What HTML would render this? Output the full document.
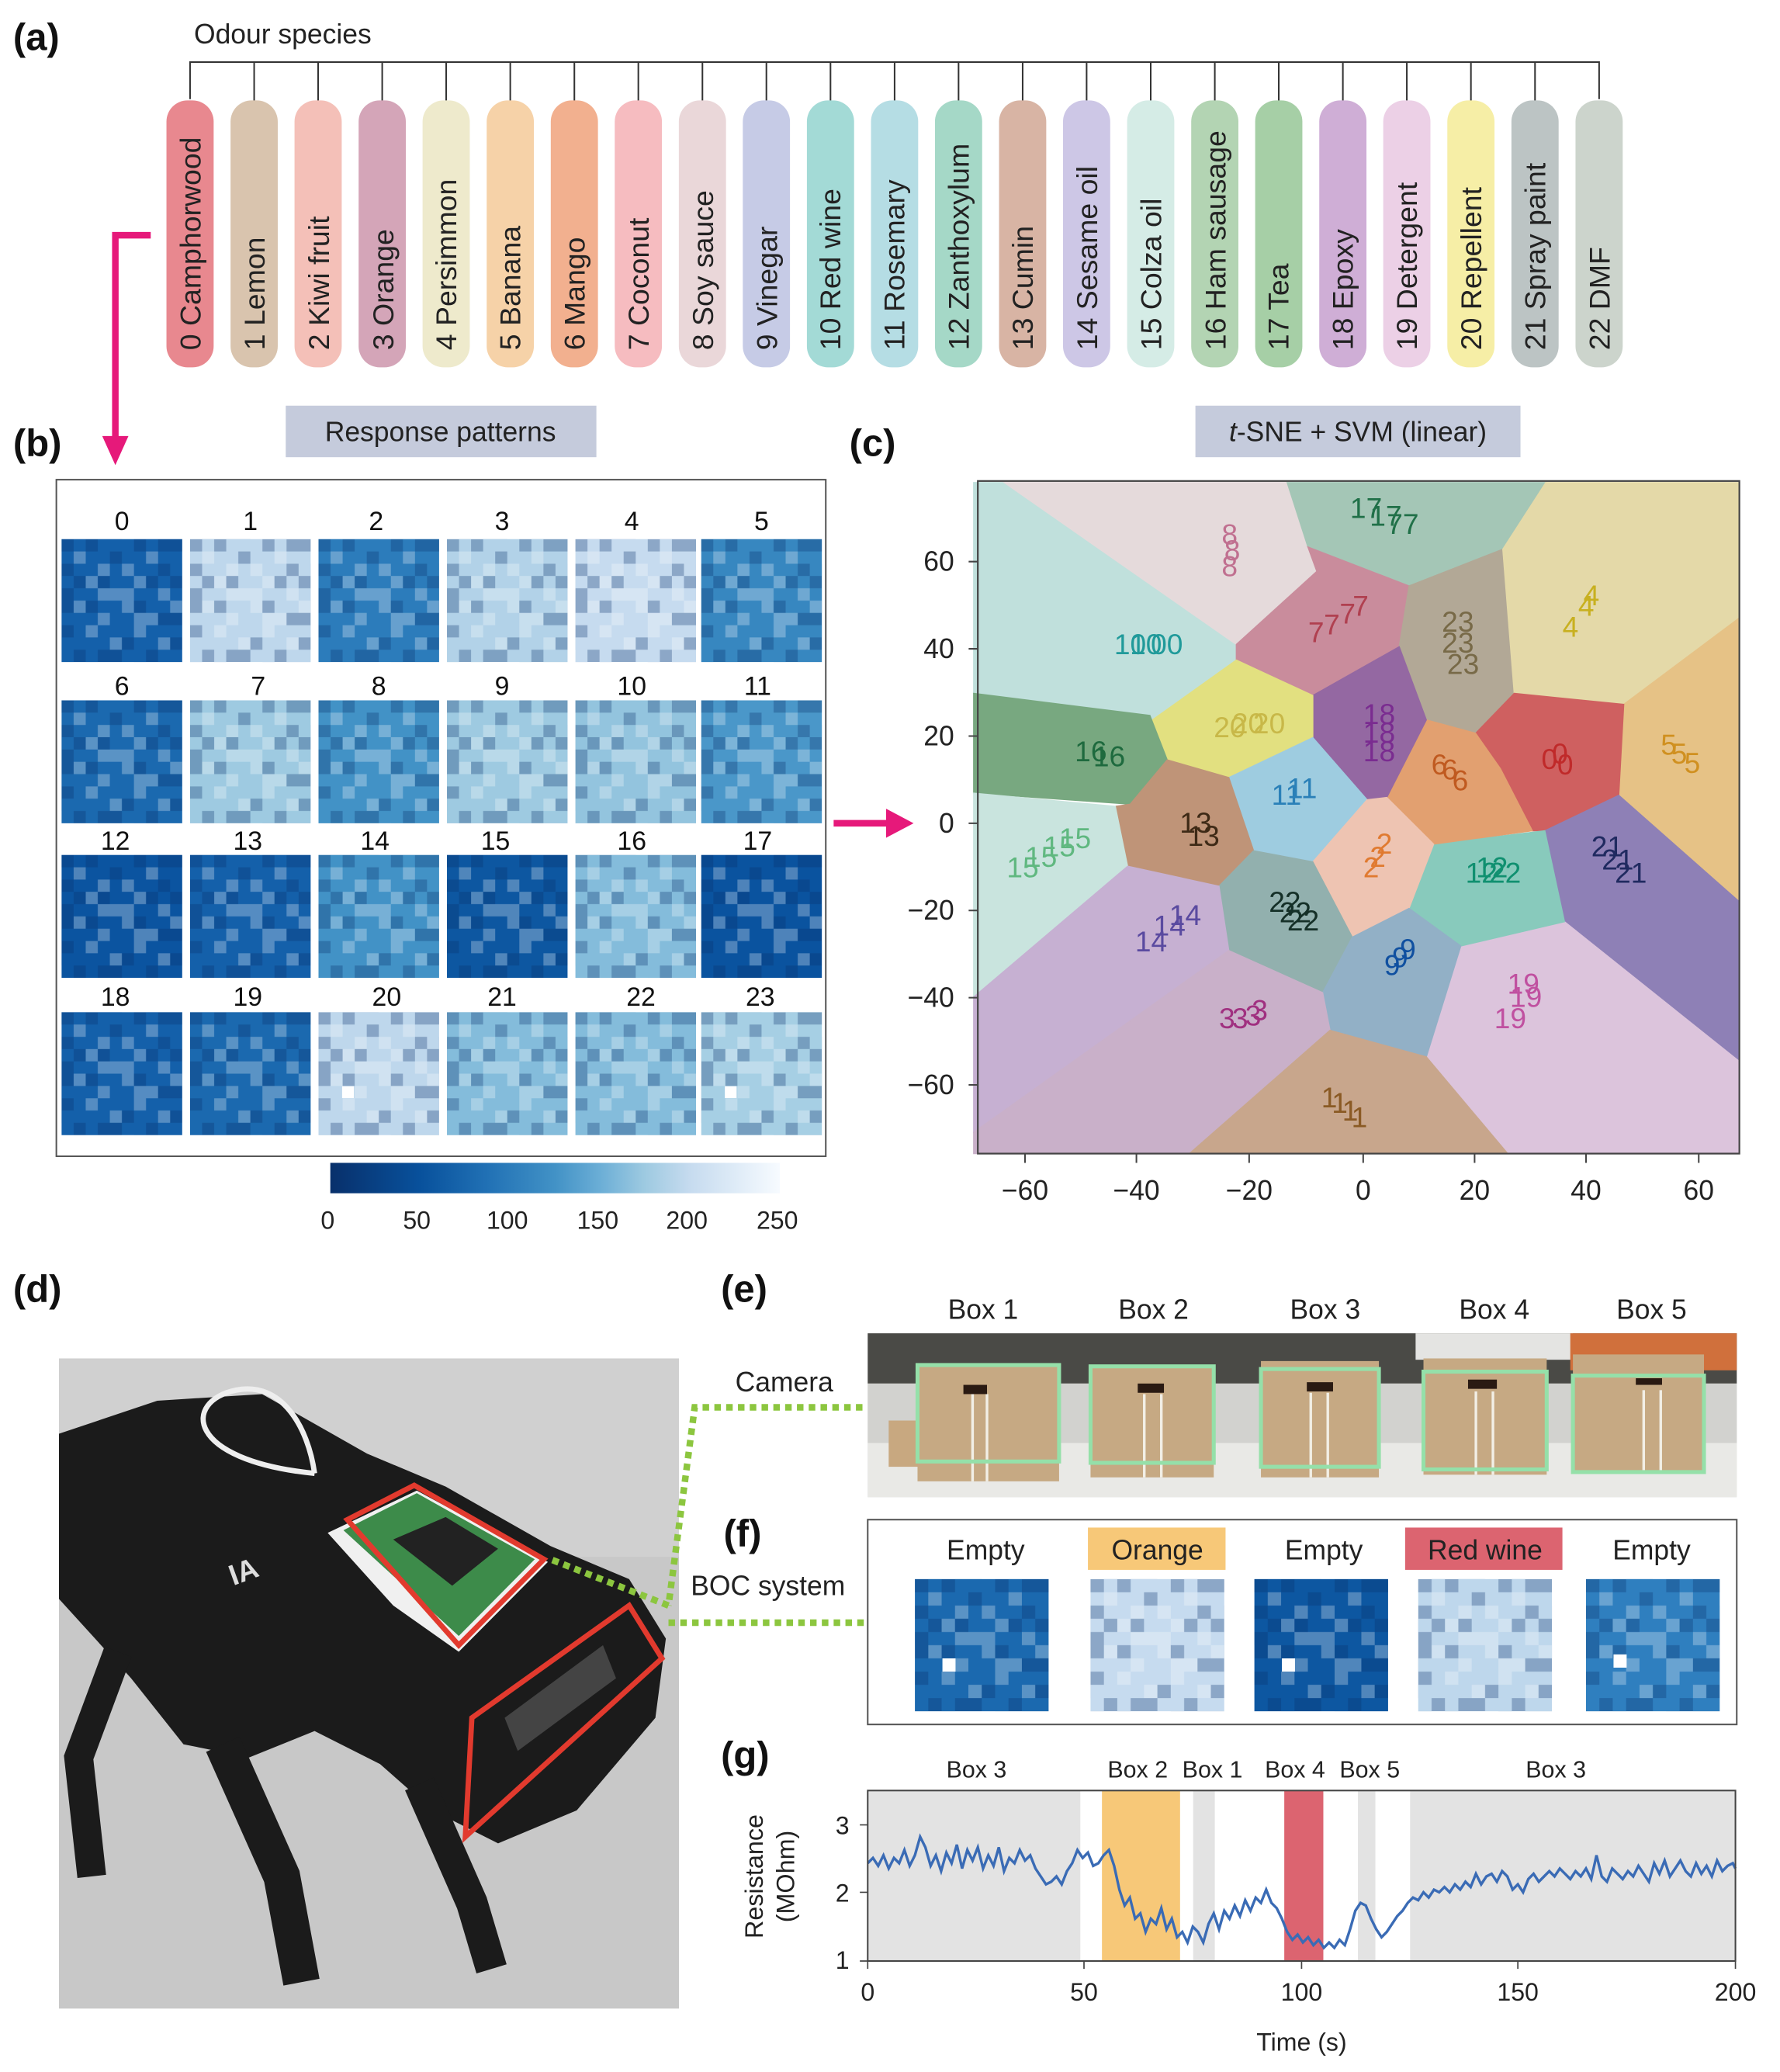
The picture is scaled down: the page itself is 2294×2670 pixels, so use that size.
<!DOCTYPE html>
<html><head><meta charset="utf-8"><style>body{margin:0;background:#fff}svg{display:block}</style></head>
<body>
<svg width="2294" height="2670" viewBox="0 0 1358 1568" preserveAspectRatio="none" xmlns="http://www.w3.org/2000/svg" font-family="Liberation Sans, sans-serif">
<defs>
<linearGradient id="cb" x1="0" x2="1"><stop offset="0" stop-color="#08306b"/><stop offset="0.2" stop-color="#08519c"/><stop offset="0.35" stop-color="#2171b5"/><stop offset="0.5" stop-color="#4292c6"/><stop offset="0.6" stop-color="#6baed6"/><stop offset="0.7" stop-color="#9ecae1"/><stop offset="0.8" stop-color="#c6dbef"/><stop offset="0.9" stop-color="#deebf7"/><stop offset="1" stop-color="#f7fbff"/></linearGradient>
<pattern id="nz" patternUnits="objectBoundingBox" width="1" height="1" patternContentUnits="objectBoundingBox">
<path fill="#ffffff" fill-opacity="0.28" d="M.1 .1h.1v.1h-.1zM.3 .2h.1v.1h-.1zM.5 .2h.1v.1h-.1zM.7 .1h.1v.1h-.1zM.2 .3h.1v.1h-.1zM.4 .4h.1v.1h-.1zM.6 .3h.1v.1h-.1zM.8 .4h.1v.1h-.1zM.1 .5h.1v.1h-.1zM.3 .6h.1v.1h-.1zM.5 .5h.1v.1h-.1zM.7 .6h.1v.1h-.1zM.9 .5h.1v.1h-.1zM.2 .7h.1v.1h-.1zM.4 .8h.1v.1h-.1zM.6 .7h.1v.1h-.1zM.8 .8h.1v.1h-.1zM.5 .4h.1v.1h-.1zM.3 .4h.1v.1h-.1zM.6 .6h.1v.1h-.1z"/>
<path fill="#08306b" fill-opacity="0.3" d="M0 0h.1v.1h-.1zM0 .2h.1v.1h-.1zM0 .4h.1v.1h-.1zM0 .7h.1v.1h-.1zM.9 0h.1v.1h-.1zM.9 .3h.1v.1h-.1zM.9 .8h.1v.1h-.1zM.2 0h.1v.1h-.1zM.6 0h.1v.1h-.1zM.8 0h.1v.1h-.1zM.4 .9h.1v.1h-.1zM.7 .9h.1v.1h-.1zM.1 .9h.1v.1h-.1zM.3 .3h.1v.1h-.1zM.6 .5h.1v.1h-.1zM.2 .5h.1v.1h-.1zM.8 .2h.1v.1h-.1zM.5 .8h.1v.1h-.1zM.4 .1h.1v.1h-.1zM.7 .3h.1v.1h-.1zM.1 .3h.1v.1h-.1zM.0 .5h.1v.1h-.1zM.9 .6h.1v.1h-.1zM.3 .9h.1v.1h-.1zM.8 .6h.1v.1h-.1z"/>
</pattern>
</defs>
<path d="M145,75 V47 H1220 V75" stroke="#333" stroke-width="1.2" fill="none"/>
<g stroke="#333" stroke-width="1.2"><path d="M193.9,47v31M242.7,47v31M291.6,47v31M340.4,47v31M389.3,47v31M438.2,47v31M487,47v31M535.9,47v31M584.7,47v31M633.6,47v31M682.5,47v31M731.3,47v31M780.2,47v31M829,47v31M877.9,47v31M926.8,47v31M975.6,47v31M1024.5,47v31M1073.3,47v31M1122.2,47v31M1171.1,47v31"/></g>
<g>
<rect x="127" y="76" width="36" height="202" rx="16" fill="#e8888f"/>
<rect x="175.9" y="76" width="36" height="202" rx="16" fill="#d9c4ae"/>
<rect x="224.7" y="76" width="36" height="202" rx="16" fill="#f4c0b8"/>
<rect x="273.6" y="76" width="36" height="202" rx="16" fill="#d4a5b8"/>
<rect x="322.4" y="76" width="36" height="202" rx="16" fill="#eeeacc"/>
<rect x="371.3" y="76" width="36" height="202" rx="16" fill="#f6d2a8"/>
<rect x="420.2" y="76" width="36" height="202" rx="16" fill="#f2b08f"/>
<rect x="469" y="76" width="36" height="202" rx="16" fill="#f6bcc0"/>
<rect x="517.9" y="76" width="36" height="202" rx="16" fill="#ead7d9"/>
<rect x="566.7" y="76" width="36" height="202" rx="16" fill="#c6cbe6"/>
<rect x="615.6" y="76" width="36" height="202" rx="16" fill="#a3dad6"/>
<rect x="664.5" y="76" width="36" height="202" rx="16" fill="#b5dde4"/>
<rect x="713.3" y="76" width="36" height="202" rx="16" fill="#a5d8c7"/>
<rect x="762.2" y="76" width="36" height="202" rx="16" fill="#d8b4a4"/>
<rect x="811" y="76" width="36" height="202" rx="16" fill="#cdc7e6"/>
<rect x="859.9" y="76" width="36" height="202" rx="16" fill="#d5ece6"/>
<rect x="908.8" y="76" width="36" height="202" rx="16" fill="#b3d4b3"/>
<rect x="957.6" y="76" width="36" height="202" rx="16" fill="#a6cfa6"/>
<rect x="1006.5" y="76" width="36" height="202" rx="16" fill="#cfaed6"/>
<rect x="1055.3" y="76" width="36" height="202" rx="16" fill="#ecd0e6"/>
<rect x="1104.2" y="76" width="36" height="202" rx="16" fill="#f6eea6"/>
<rect x="1153.1" y="76" width="36" height="202" rx="16" fill="#bcc4c4"/>
<rect x="1202" y="76" width="36" height="202" rx="16" fill="#ccd4cc"/>
</g>
<g>
<rect x="47" y="408" width="92" height="93" fill="#1460aa"/><rect x="145" y="408" width="92" height="93" fill="#bed7ec"/><rect x="243" y="408" width="92" height="93" fill="#2c7cbb"/><rect x="341" y="408" width="92" height="93" fill="#b2d2e8"/><rect x="439" y="408" width="92" height="93" fill="#c6dbef"/><rect x="535" y="408" width="92" height="93" fill="#3787c0"/>
<rect x="47" y="530" width="92" height="93" fill="#1b69af"/><rect x="145" y="530" width="92" height="93" fill="#9ecae1"/><rect x="243" y="530" width="92" height="93" fill="#4292c6"/><rect x="341" y="530" width="92" height="93" fill="#9ecae1"/><rect x="439" y="530" width="92" height="93" fill="#93c4de"/><rect x="535" y="530" width="92" height="93" fill="#4a97c9"/>
<rect x="47" y="647" width="92" height="93" fill="#0b54a0"/><rect x="145" y="647" width="92" height="93" fill="#1460aa"/><rect x="243" y="647" width="92" height="93" fill="#4292c6"/><rect x="341" y="647" width="92" height="93" fill="#0d57a1"/><rect x="439" y="647" width="92" height="93" fill="#84bcdb"/><rect x="535" y="647" width="92" height="93" fill="#0a539f"/>
<rect x="47" y="766" width="92" height="93" fill="#1460aa"/><rect x="145" y="766" width="92" height="93" fill="#1b69af"/><rect x="243" y="766" width="92" height="93" fill="#bed7ec"/><rect x="341" y="766" width="92" height="93" fill="#84bcdb"/><rect x="439" y="766" width="92" height="93" fill="#84bcdb"/><rect x="535" y="766" width="92" height="93" fill="#a6cfe4"/>
</g>
<g fill="url(#nz)">
<rect x="47" y="408" width="92" height="93"/><rect x="145" y="408" width="92" height="93"/><rect x="243" y="408" width="92" height="93"/><rect x="341" y="408" width="92" height="93"/><rect x="439" y="408" width="92" height="93"/><rect x="535" y="408" width="92" height="93"/>
<rect x="47" y="530" width="92" height="93"/><rect x="145" y="530" width="92" height="93"/><rect x="243" y="530" width="92" height="93"/><rect x="341" y="530" width="92" height="93"/><rect x="439" y="530" width="92" height="93"/><rect x="535" y="530" width="92" height="93"/>
<rect x="47" y="647" width="92" height="93"/><rect x="145" y="647" width="92" height="93"/><rect x="243" y="647" width="92" height="93"/><rect x="341" y="647" width="92" height="93"/><rect x="439" y="647" width="92" height="93"/><rect x="535" y="647" width="92" height="93"/>
<rect x="47" y="766" width="92" height="93"/><rect x="145" y="766" width="92" height="93"/><rect x="243" y="766" width="92" height="93"/><rect x="341" y="766" width="92" height="93"/><rect x="439" y="766" width="92" height="93"/><rect x="535" y="766" width="92" height="93"/>
</g>
<rect x="261" y="822" width="9" height="9" fill="#fff"/><rect x="553" y="822" width="9" height="9" fill="#fff"/>
<g stroke-width="0.8">
<polygon fill="#c0e0dc" stroke="#c0e0dc" points="742.8,365.2 766.2,365.2 943.2,487.7 943.2,499.5 879.2,544.8 742.8,524.7"/>
<polygon fill="#e5dadb" stroke="#e5dadb" points="766.2,365.2 982,365.2 997.8,413.9 1004.6,432.4 943.2,487.7"/>
<polygon fill="#a4c6b6" stroke="#a4c6b6" points="982,365.2 1179.3,365.2 1146.5,415.6 1075,443.4 997.8,413.9"/>
<polygon fill="#c98c9c" stroke="#c98c9c" points="997.8,413.9 1075,443.4 1067.5,489.4 1001.6,526.3 943.2,499.5 943.2,487.7 1004.6,432.4"/>
<polygon fill="#b2a896" stroke="#b2a896" points="1075,443.4 1146.5,415.6 1155.2,524.7 1125.8,554.9 1088.2,544.8 1067.5,489.4"/>
<polygon fill="#e4d9a8" stroke="#e4d9a8" points="1179.3,365.2 1327,365.2 1327,467.6 1238.8,533 1155.2,524.7 1146.5,415.6"/>
<polygon fill="#e6c286" stroke="#e6c286" points="1327,467.6 1238.8,533 1235,601.8 1327,682.4"/>
<polygon fill="#cf6060" stroke="#cf6060" points="1155.2,524.7 1238.8,533 1235,601.8 1178.6,628.7 1169.1,628.7 1144.7,581.7 1125.8,554.9"/>
<polygon fill="#8e80b6" stroke="#8e80b6" points="1235,601.8 1327,682.4 1327,803.2 1193.6,697.5 1178.6,628.7"/>
<polygon fill="#dcc4dc" stroke="#dcc4dc" points="1193.6,697.5 1327,803.2 1327,873 1150.3,873 1088.2,799.8 1114.5,715.9"/>
<polygon fill="#88cabc" stroke="#88cabc" points="1093.8,638.8 1178.6,628.7 1193.6,697.5 1114.5,715.9 1075,687.4"/>
<polygon fill="#e2a070" stroke="#e2a070" points="1088.2,544.8 1125.8,554.9 1144.7,581.7 1169.1,628.7 1093.8,638.8 1058,603.5"/>
<polygon fill="#9468a2" stroke="#9468a2" points="1067.5,489.4 1088.2,544.8 1058,603.5 1043,605.2 1001.6,558.2 1001.6,526.3"/>
<polygon fill="#e2e080" stroke="#e2e080" points="943.2,499.5 1001.6,526.3 1001.6,558.2 937.5,588.4 890.5,575 879.2,544.8"/>
<polygon fill="#78a880" stroke="#78a880" points="742.8,524.7 877.3,541.4 890.5,575 862.2,608.6 742.8,600.2"/>
<polygon fill="#9ecce0" stroke="#9ecce0" points="937.5,588.4 1001.6,558.2 1043,605.2 1001.6,652.2 956.4,643.8"/>
<polygon fill="#bf9478" stroke="#bf9478" points="890.5,575 937.5,588.4 956.4,643.8 930,670.6 860.3,655.5 850.9,610.2 862.2,608.6"/>
<polygon fill="#c9e4de" stroke="#c9e4de" points="742.8,600.2 850.9,610.2 860.3,655.5 742.8,754.5"/>
<polygon fill="#eec4b2" stroke="#eec4b2" points="1043,605.2 1058,603.5 1093.8,638.8 1075,687.4 1031.7,709.2 1001.6,652.2"/>
<polygon fill="#92b0ae" stroke="#92b0ae" points="956.4,643.8 1001.6,652.2 1031.7,709.2 1009.1,751.2 937.5,719.3 930,670.6"/>
<polygon fill="#92b0c6" stroke="#92b0c6" points="1031.7,709.2 1075,687.4 1114.5,715.9 1088.2,799.8 1014.7,779.7 1009.1,751.2"/>
<polygon fill="#c6b0d2" stroke="#c6b0d2" points="860.3,655.5 930,670.6 937.5,719.3 742.8,856.9 742.8,754.5"/>
<polygon fill="#c9b0c9" stroke="#c9b0c9" points="937.5,719.3 1009.1,751.2 1014.7,779.7 907.4,873 742.8,873 742.8,856.9"/>
<polygon fill="#c8a68c" stroke="#c8a68c" points="1014.7,779.7 1088.2,799.8 1150.3,873 907.4,873"/>
</g>
<g>
 <rect x="45" y="1028" width="473" height="492" fill="#c8c8c8"/>
 <rect x="45" y="1028" width="473" height="150" fill="#d6d6d6" opacity="0.6"/>
 <polygon points="45,1085 120,1060 200,1055 280,1100 340,1125 420,1170 480,1195 508,1240 500,1300 440,1370 380,1395 330,1370 290,1335 240,1310 190,1330 140,1320 100,1270 45,1210" fill="#1b1b1b"/>
 <path d="M170,1320 L215,1420 L230,1500" stroke="#1b1b1b" stroke-width="28" fill="none"/>
 <path d="M90,1250 L60,1330 L70,1420" stroke="#1b1b1b" stroke-width="22" fill="none"/>
 <path d="M320,1350 L360,1440 L375,1490" stroke="#1b1b1b" stroke-width="24" fill="none"/>
 <path d="M240,1115 C140,1105 140,1060 180,1052 C215,1045 235,1080 240,1115" stroke="#eee" stroke-width="4" fill="none"/>
 <polygon points="250,1160 318,1128 418,1182 350,1250 300,1215" fill="#f0f0f0"/>
 <polygon points="262,1158 318,1130 408,1180 350,1238" fill="#3d8b4a"/>
 <polygon points="300,1165 340,1148 380,1172 345,1200" fill="#222"/>
 <polygon points="265,1150 316,1124 415,1180 350,1245" fill="none" stroke="#e23a2e" stroke-width="4"/>
 <polygon points="360,1300 480,1215 505,1255 355,1390" fill="none" stroke="#e23a2e" stroke-width="4"/>
 <polygon points="385,1300 460,1245 470,1270 395,1325" fill="#444"/>
 <text x="178" y="1200" font-size="22" fill="#ddd" font-weight="bold" transform="rotate(-20 178 1200)">IA</text>
</g>
<g>
 <rect x="662" y="1009" width="663" height="124" fill="#dcdcda"/>
 <rect x="662" y="1009" width="663" height="38" fill="#4a4a46"/>
 <rect x="662" y="1047" width="663" height="45" fill="#d2d2cf"/>
 <rect x="662" y="1092" width="663" height="41" fill="#e9e9e6"/>
 <rect x="1080" y="1009" width="120" height="20" fill="#e4e4e2"/>
 <rect x="1198" y="1009" width="127" height="28" fill="#d0703c"/>
 <rect x="678" y="1075" width="24" height="35" fill="#c8a880"/>
 <g fill="#c6a983">
  <rect x="700" y="1033" width="108" height="88"/><rect x="832" y="1033" width="94" height="85"/>
  <rect x="962" y="1030" width="90" height="88"/><rect x="1086" y="1028" width="94" height="88"/><rect x="1200" y="1025" width="100" height="90"/>
 </g>
 <g fill="#f2efe6"><rect x="741" y="1055" width="2" height="66"/><rect x="752" y="1055" width="2" height="66"/><rect x="872" y="1055" width="2" height="63"/><rect x="885" y="1055" width="2" height="63"/><rect x="999" y="1054" width="2" height="64"/><rect x="1012" y="1054" width="2" height="64"/><rect x="1125" y="1053" width="2" height="63"/><rect x="1138" y="1053" width="2" height="63"/><rect x="1253" y="1052" width="2" height="63"/><rect x="1266" y="1052" width="2" height="63"/></g>
 <g fill="none" stroke="#95e0a9" stroke-width="3">
  <rect x="700" y="1033" width="108" height="73"/><rect x="832" y="1034" width="94" height="73"/>
  <rect x="962" y="1036" width="90" height="74"/><rect x="1086" y="1038" width="94" height="74"/><rect x="1200" y="1041" width="100" height="73"/>
 </g>
 <g fill="#2a1a12"><rect x="735" y="1048" width="18" height="7"/><rect x="868" y="1047" width="20" height="7"/><rect x="997" y="1046" width="20" height="7"/><rect x="1120" y="1044" width="22" height="7"/><rect x="1248" y="1043" width="20" height="5"/></g>
</g>
<g font-size="29" font-weight="bold" fill="#111">
 <text x="10" y="38">(a)</text><text x="10" y="345">(b)</text><text x="648" y="345">(c)</text>
 <text x="10" y="985">(d)</text><text x="550" y="985">(e)</text><text x="552" y="1170">(f)</text><text x="550" y="1338">(g)</text>
</g>
<text x="148" y="33" font-size="21" fill="#222">Odour species</text>
<g font-size="22" fill="#222">
<text transform="translate(153,265) rotate(-90)">0 Camphorwood</text>
<text transform="translate(202,265) rotate(-90)">1 Lemon</text>
<text transform="translate(251,265) rotate(-90)">2 Kiwi fruit</text>
<text transform="translate(300,265) rotate(-90)">3 Orange</text>
<text transform="translate(348,265) rotate(-90)">4 Persimmon</text>
<text transform="translate(397,265) rotate(-90)">5 Banana</text>
<text transform="translate(446,265) rotate(-90)">6 Mango</text>
<text transform="translate(495,265) rotate(-90)">7 Coconut</text>
<text transform="translate(544,265) rotate(-90)">8 Soy sauce</text>
<text transform="translate(593,265) rotate(-90)">9 Vinegar</text>
<text transform="translate(641,265) rotate(-90)">10 Red wine</text>
<text transform="translate(690,265) rotate(-90)">11 Rosemary</text>
<text transform="translate(739,265) rotate(-90)">12 Zanthoxylum</text>
<text transform="translate(788,265) rotate(-90)">13 Cumin</text>
<text transform="translate(837,265) rotate(-90)">14 Sesame oil</text>
<text transform="translate(886,265) rotate(-90)">15 Colza oil</text>
<text transform="translate(935,265) rotate(-90)">16 Ham sausage</text>
<text transform="translate(983,265) rotate(-90)">17 Tea</text>
<text transform="translate(1032,265) rotate(-90)">18 Epoxy</text>
<text transform="translate(1081,265) rotate(-90)">19 Detergent</text>
<text transform="translate(1130,265) rotate(-90)">20 Repellent</text>
<text transform="translate(1179,265) rotate(-90)">21 Spray paint</text>
<text transform="translate(1228,265) rotate(-90)">22 DMF</text>
</g>
<path d="M115,178 L88,178 L88,335" stroke="#e6197a" stroke-width="5" fill="none"/>
<polygon points="78,330 98,330 88,352" fill="#e6197a"/>
<path d="M636,623 L680,623" stroke="#e6197a" stroke-width="5"/>
<polygon points="676,612 697,623 676,634" fill="#e6197a"/>
<rect x="218" y="307" width="237" height="39" fill="#c5cbdc"/>
<text x="336" y="334" font-size="21" text-anchor="middle" fill="#222">Response patterns</text>
<rect x="912" y="307" width="248" height="39" fill="#c5cbdc"/>
<text x="1036" y="334" font-size="21" text-anchor="middle" fill="#222"><tspan font-style="italic">t</tspan>-SNE + SVM (linear)</text>
<rect x="43" y="363" width="587" height="512" fill="none" stroke="#555" stroke-width="1.2"/>
<g font-size="20" fill="#111" text-anchor="middle">
<text x="93" y="401">0</text><text x="191" y="401">1</text><text x="287" y="401">2</text><text x="383" y="401">3</text><text x="482" y="401">4</text><text x="581" y="401">5</text>
<text x="93" y="526">6</text><text x="197" y="526">7</text><text x="289" y="526">8</text><text x="383" y="526">9</text><text x="482" y="526">10</text><text x="578" y="526">11</text>
<text x="88" y="643">12</text><text x="189" y="643">13</text><text x="286" y="643">14</text><text x="378" y="643">15</text><text x="482" y="643">16</text><text x="578" y="643">17</text>
<text x="88" y="761">18</text><text x="189" y="761">19</text><text x="295" y="761">20</text><text x="383" y="761">21</text><text x="489" y="761">22</text><text x="580" y="761">23</text>
</g>
<rect x="252" y="880" width="343" height="23" fill="url(#cb)"/>
<g font-size="19" fill="#222" text-anchor="middle"><text x="250" y="930">0</text><text x="318" y="930">50</text><text x="387" y="930">100</text><text x="456" y="930">150</text><text x="524" y="930">200</text><text x="593" y="930">250</text></g>
<rect x="746" y="364" width="581" height="509" fill="none" stroke="#444" stroke-width="1.3"/>
<g stroke="#444" stroke-width="1.2"><path d="M782,873v7M867,873v7M953,873v7M1040,873v7M1125,873v7M1210,873v7M1296,873v7M746,425h-7M746,491h-7M746,557h-7M746,623h-7M746,689h-7M746,755h-7M746,821h-7"/></g>
<g font-size="21" fill="#222" text-anchor="middle"><text x="782" y="908">−60</text><text x="867" y="908">−40</text><text x="953" y="908">−20</text><text x="1040" y="908">0</text><text x="1125" y="908">20</text><text x="1210" y="908">40</text><text x="1296" y="908">60</text></g>
<g font-size="21" fill="#222" text-anchor="end"><text x="728" y="432">60</text><text x="728" y="498">40</text><text x="728" y="564">20</text><text x="728" y="630">0</text><text x="728" y="696">−20</text><text x="728" y="762">−40</text><text x="728" y="828">−60</text></g>
<g font-size="22">
<text x="1176" y="582" fill="#c02a2a">0</text><text x="1184" y="578" fill="#c02a2a">0</text><text x="1188" y="586" fill="#c02a2a">0</text>
<text x="1008" y="838" fill="#8a5a24">1</text><text x="1016" y="842" fill="#8a5a24">1</text><text x="1024" y="848" fill="#8a5a24">1</text><text x="1031" y="853" fill="#8a5a24">1</text>
<text x="1040" y="664" fill="#e07a30">2</text><text x="1045" y="656" fill="#e07a30">2</text><text x="1050" y="646" fill="#e07a30">2</text>
<text x="930" y="778" fill="#a03080">3</text><text x="940" y="778" fill="#a03080">3</text><text x="950" y="776" fill="#a03080">3</text><text x="955" y="772" fill="#a03080">3</text>
<text x="1192" y="482" fill="#c8b020">4</text><text x="1204" y="466" fill="#c8b020">4</text><text x="1208" y="458" fill="#c8b020">4</text>
<text x="1267" y="571" fill="#d09020">5</text><text x="1275" y="578" fill="#d09020">5</text><text x="1285" y="585" fill="#d09020">5</text>
<text x="1092" y="586" fill="#c05a20">6</text><text x="1100" y="590" fill="#c05a20">6</text><text x="1108" y="598" fill="#c05a20">6</text>
<text x="998" y="486" fill="#b04050">7</text><text x="1010" y="480" fill="#b04050">7</text><text x="1022" y="472" fill="#b04050">7</text><text x="1032" y="466" fill="#b04050">7</text>
<text x="932" y="412" fill="#c07090">8</text><text x="934" y="424" fill="#c07090">8</text><text x="932" y="436" fill="#c07090">8</text>
<text x="1056" y="738" fill="#1050a0">9</text><text x="1062" y="732" fill="#1050a0">9</text><text x="1068" y="726" fill="#1050a0">9</text>
<text x="850" y="495" fill="#209a9a">10</text><text x="862" y="495" fill="#209a9a">10</text><text x="878" y="495" fill="#209a9a">00</text>
<text x="970" y="609" fill="#2a80b8">11</text><text x="982" y="604" fill="#2a80b8">11</text>
<text x="1118" y="668" fill="#109070">12</text><text x="1126" y="664" fill="#109070">12</text><text x="1136" y="668" fill="#109070">22</text>
<text x="900" y="630" fill="#3e2a16">13</text><text x="906" y="640" fill="#3e2a16">13</text>
<text x="866" y="720" fill="#5a4aa0">14</text><text x="880" y="708" fill="#5a4aa0">14</text><text x="892" y="700" fill="#5a4aa0">14</text>
<text x="768" y="664" fill="#60b880">15</text><text x="782" y="656" fill="#60b880">15</text><text x="796" y="648" fill="#60b880">15</text><text x="808" y="642" fill="#60b880">15</text>
<text x="820" y="576" fill="#1e6a3e">16</text><text x="834" y="580" fill="#1e6a3e">16</text>
<text x="1030" y="392" fill="#207048">17</text><text x="1045" y="398" fill="#207048">17</text><text x="1058" y="404" fill="#207048">77</text>
<text x="1040" y="548" fill="#7a2c90">18</text><text x="1040" y="562" fill="#7a2c90">18</text><text x="1040" y="576" fill="#7a2c90">18</text>
<text x="1150" y="752" fill="#c050a0">19</text><text x="1152" y="762" fill="#c050a0">19</text><text x="1140" y="778" fill="#c050a0">19</text>
<text x="926" y="558" fill="#c8b848">20</text><text x="940" y="555" fill="#c8b848">20</text><text x="956" y="555" fill="#c8b848">20</text>
<text x="1214" y="648" fill="#202a60">21</text><text x="1222" y="658" fill="#202a60">21</text><text x="1232" y="668" fill="#202a60">21</text>
<text x="968" y="690" fill="#153028">22</text><text x="976" y="698" fill="#153028">22</text><text x="982" y="704" fill="#153028">22</text>
<text x="1100" y="478" fill="#786a48">23</text><text x="1100" y="494" fill="#786a48">23</text><text x="1104" y="510" fill="#786a48">23</text>
</g>
<g font-size="21" fill="#222" text-anchor="middle">
<text x="750" y="998">Box 1</text><text x="880" y="998">Box 2</text><text x="1011" y="998">Box 3</text><text x="1140" y="998">Box 4</text><text x="1260" y="998">Box 5</text>
</g>
<text x="561" y="1053" font-size="21" fill="#222">Camera</text>
<text x="527" y="1207" font-size="21" fill="#222">BOC system</text>
<g stroke="#8cc63f" stroke-width="5" stroke-dasharray="5,4" fill="none"><path d="M658,1065 H530 L510,1215 M510,1215 L420,1180 M510,1228 H660"/></g>
<rect x="662" y="1150" width="663" height="155" fill="none" stroke="#555" stroke-width="1.2"/>
<rect x="830" y="1156" width="105" height="32" fill="#f7c878"/>
<rect x="1072" y="1156" width="120" height="32" fill="#dc6470"/>
<g font-size="21" fill="#222" text-anchor="middle"><text x="752" y="1180">Empty</text><text x="883" y="1180">Orange</text><text x="1010" y="1180">Empty</text><text x="1133" y="1180">Red wine</text><text x="1260" y="1180">Empty</text></g>
<g>
<rect x="698" y="1195" width="102" height="100" fill="#1b69af"/><rect x="832" y="1195" width="102" height="100" fill="#c6dbef"/><rect x="957" y="1195" width="102" height="100" fill="#0d57a1"/><rect x="1082" y="1195" width="102" height="100" fill="#bed7ec"/><rect x="1210" y="1195" width="102" height="100" fill="#2f7fbf"/>
</g>
<g fill="url(#nz)"><rect x="698" y="1195" width="102" height="100"/><rect x="832" y="1195" width="102" height="100"/><rect x="957" y="1195" width="102" height="100"/><rect x="1082" y="1195" width="102" height="100"/><rect x="1210" y="1195" width="102" height="100"/></g>
<g fill="#fff"><rect x="719" y="1255" width="10" height="10"/><rect x="978" y="1255" width="10" height="10"/><rect x="1231" y="1252" width="10" height="10"/></g>
<g>
<rect x="662" y="1355" width="162.2" height="129" fill="#e3e3e3"/>
<rect x="840.7" y="1355" width="59.6" height="129" fill="#f7c878"/>
<rect x="910.3" y="1355" width="16.5" height="129" fill="#e3e3e3"/>
<rect x="979.8" y="1355" width="29.8" height="129" fill="#dc6470"/>
<rect x="1036" y="1355" width="13.3" height="129" fill="#e3e3e3"/>
<rect x="1075.8" y="1355" width="248.2" height="129" fill="#e3e3e3"/>
<polyline fill="none" stroke="#3a6bb5" stroke-width="2" points="662,1410 666,1406 670,1412 674,1404 678,1414 682,1406 686,1410 690,1400 694,1412 698,1404 702,1390 706,1398 710,1412 714,1404 718,1416 722,1402 726,1410 730,1396 734,1414 738,1400 742,1408 746,1398 750,1414 754,1404 758,1412 762,1398 766,1416 770,1406 774,1410 778,1400 782,1408 786,1404 790,1414 794,1420 798,1426 802,1424 806,1420 810,1426 814,1416 818,1410 822,1400 826,1406 830,1402 834,1412 838,1410 842,1404 846,1400 850,1412 854,1430 858,1442 862,1436 866,1452 870,1448 874,1462 878,1452 882,1456 886,1444 890,1460 894,1452 898,1466 902,1462 906,1470 910,1458 914,1462 918,1470 922,1456 926,1448 930,1460 934,1446 938,1452 942,1442 946,1450 950,1438 954,1446 958,1436 962,1440 966,1430 970,1440 974,1444 978,1452 982,1462 986,1468 990,1464 994,1470 998,1466 1002,1472 1006,1468 1010,1474 1014,1470 1018,1474 1022,1468 1026,1472 1030,1460 1034,1446 1038,1440 1042,1442 1046,1452 1050,1460 1054,1466 1058,1462 1062,1456 1066,1450 1070,1446 1074,1440 1078,1436 1082,1438 1086,1432 1090,1436 1094,1430 1098,1432 1102,1428 1106,1432 1110,1426 1114,1430 1118,1424 1122,1428 1126,1418 1130,1426 1134,1420 1138,1418 1142,1424 1146,1416 1150,1420 1154,1430 1158,1426 1162,1432 1166,1422 1170,1418 1174,1424 1178,1420 1182,1416 1186,1420 1190,1414 1194,1418 1198,1422 1202,1416 1206,1420 1210,1414 1214,1422 1218,1404 1222,1420 1226,1424 1230,1414 1234,1418 1238,1422 1242,1416 1246,1420 1250,1412 1254,1418 1258,1424 1262,1410 1266,1418 1270,1408 1274,1420 1278,1414 1282,1408 1286,1416 1290,1420 1294,1410 1298,1418 1302,1412 1306,1420 1310,1408 1314,1416 1318,1412 1322,1410 1324,1414"/>
</g>
<rect x="662" y="1355" width="662" height="129" fill="none" stroke="#444" stroke-width="1.2"/>
<g font-size="18" fill="#222" text-anchor="middle"><text x="745" y="1345">Box 3</text><text x="868" y="1345">Box 2</text><text x="925" y="1345">Box 1</text><text x="988" y="1345">Box 4</text><text x="1045" y="1345">Box 5</text><text x="1187" y="1345">Box 3</text></g>
<g stroke="#444"><path d="M662,1484v6M827,1484v6M993,1484v6M1158,1484v6M1324,1484v6M662,1381h-6M662,1432h-6M662,1484h-6"/></g>
<g font-size="19" fill="#222" text-anchor="middle"><text x="662" y="1514">0</text><text x="827" y="1514">50</text><text x="993" y="1514">100</text><text x="1158" y="1514">150</text><text x="1324" y="1514">200</text><text x="993" y="1552">Time (s)</text></g>
<g font-size="19" fill="#222" text-anchor="end"><text x="648" y="1388">3</text><text x="648" y="1439">2</text><text x="648" y="1490">1</text></g>
<g font-size="19" fill="#222" text-anchor="middle"><text transform="translate(582,1420) rotate(-90)">Resistance</text><text transform="translate(606,1420) rotate(-90)">(MOhm)</text></g>
</svg>
</body></html>
